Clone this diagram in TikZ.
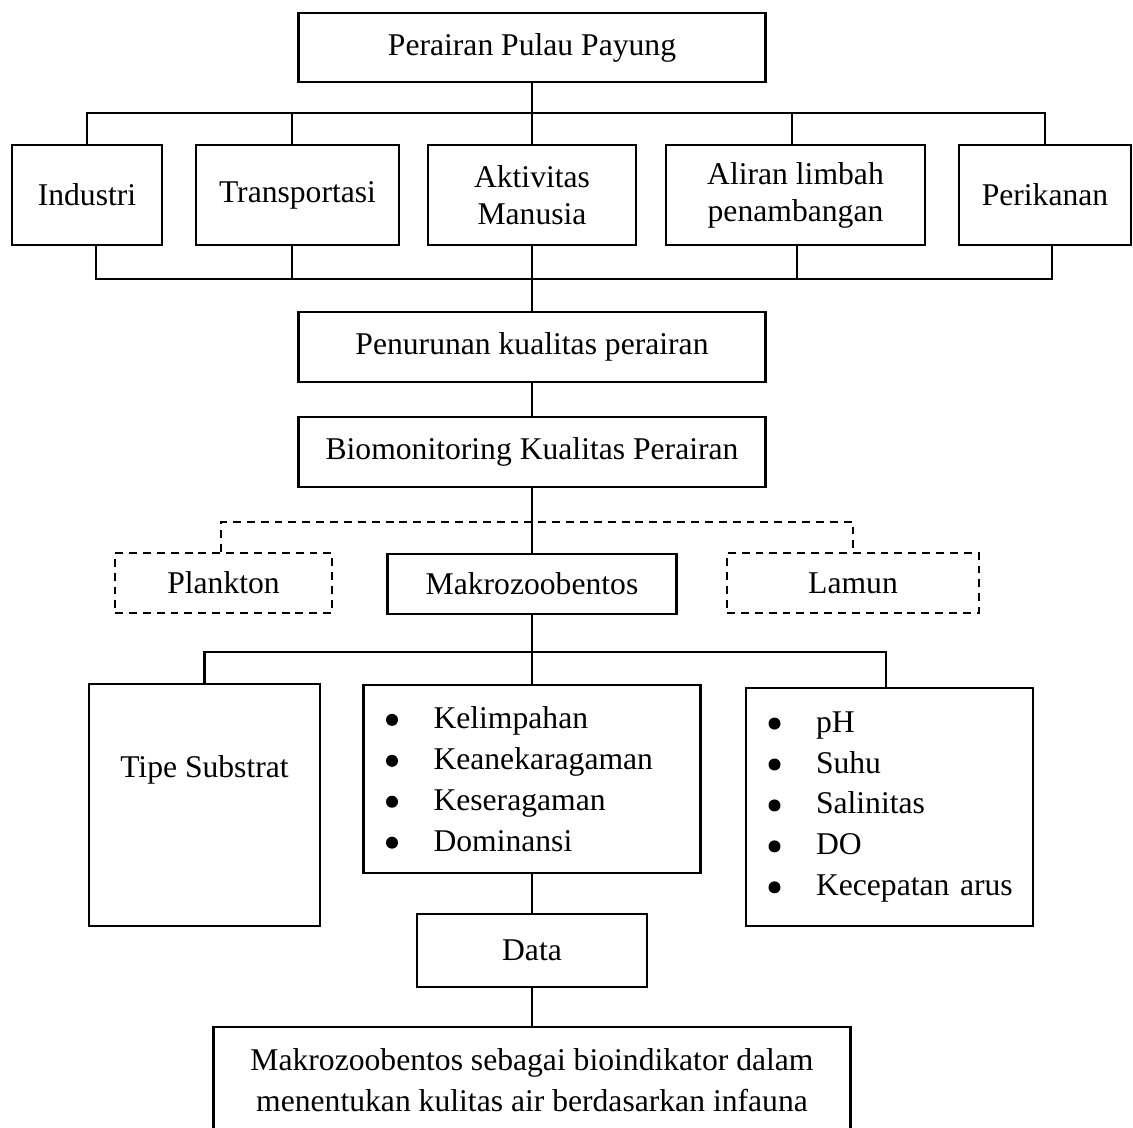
\documentclass[tikz,border=0pt]{standalone}
\usepackage{fontspec}
\setmainfont{Liberation Serif}

\tikzset{
  kotak/.style={draw, line width=1.4pt, inner sep=0, align=center, font=\fontsize{18}{21}\selectfont},
  putus/.style={dash pattern=on 4.5pt off 3.4pt},
  garis/.style={line width=1.4pt},
  daftar/.style={kotak, align=left, font=\fontsize{18}{23.3}\selectfont},
}
\newcommand{\titik}{\tikz[baseline=-0.27em]\fill (0,0) circle (0.12cm);}
\newcommand{\butir}[1]{\hspace*{0.45cm}\makebox[0.95cm][l]{\titik}#1}

\begin{document}
\begin{tikzpicture}

        \useasboundingbox (0, 0) rectangle (22.66, 22.54);
        \clip (0, 0) rectangle (22.66, 22.54);

        % Boxes:
        \node[kotak, minimum width=9.34cm, minimum height=1.38cm] (payung) at (10.64, 21.59) {Perairan Pulau Payung};
        \node[kotak, minimum width=3.0cm, minimum height=2.0cm] (industri) at (1.74, 18.64) {Industri};
        \node[kotak, minimum width=4.06cm, minimum height=2.0cm] (transportasi) at (5.95, 18.64) {Transportasi};
        \node[kotak, minimum width=4.16cm, minimum height=2.0cm] (aktivitas) at (10.64, 18.64) {Aktivitas\\Manusia};
        \node[kotak, minimum width=5.18cm, minimum height=2.0cm] (limbah) at (15.91, 18.64) {Aliran limbah\\penambangan};
        \node[kotak, minimum width=3.44cm, minimum height=2.0cm] (perikanan) at (20.90, 18.64) {Perikanan};
        \node[kotak, minimum width=9.34cm, minimum height=1.40cm] (penurunan) at (10.64, 15.60) {Penurunan kualitas perairan};
        \node[kotak, minimum width=9.34cm, minimum height=1.40cm] (biomon) at (10.64, 13.50) {Biomonitoring Kualitas Perairan};
        \node[kotak, putus, minimum width=4.34cm, minimum height=1.2cm] (plankton) at (4.47, 10.88) {Plankton};
        \node[kotak, minimum width=5.78cm, minimum height=1.2cm] (makro) at (10.64, 10.86) {Makrozoobentos};
        \node[kotak, putus, minimum width=5.04cm, minimum height=1.2cm] (lamun) at (17.06, 10.88) {Lamun};
        \node[kotak, minimum width=4.62cm, minimum height=4.84cm,
              label={[font=\fontsize{18}{21}\selectfont, yshift=0.7cm]center:Tipe Substrat}] (substrat) at (4.09, 6.44) {};
        \node[daftar, text width=6.74cm, minimum height=3.76cm] (indeks) at (10.64, 6.96)
            {\butir{Kelimpahan}\\\butir{Keanekaragaman}\\\butir{Keseragaman}\\\butir{Dominansi}};
        \node[daftar, text width=5.74cm, minimum height=4.76cm] (fisika) at (17.79, 6.40)
            {\butir{pH}\\\butir{Suhu}\\\butir{Salinitas}\\\butir{DO}\\\butir{Kecepatan arus}};
        \node[kotak, minimum width=4.6cm, minimum height=1.46cm] (data) at (10.64, 3.53) {Data};
        \node[kotak, font=\fontsize{18}{23.3}\selectfont, anchor=north, minimum width=12.74cm, minimum height=2.12cm] (hasil) at (10.64, 2.02)
            {Makrozoobentos sebagai bioindikator dalam\\menentukan kulitas air berdasarkan infauna};

        % Bus points:
        \coordinate (busa) at (10.64, 20.28);
        \coordinate (busb) at (10.64, 16.96);
        \coordinate (busc) at (10.64, 12.10);
        \coordinate (busd) at (10.64, 9.50);

        % Wires:
        \draw[garis] (payung) -- (aktivitas);
        \draw[garis] (industri.north) |- (busa) -| (perikanan.north);
        \draw[garis] ([xshift=-.11cm]transportasi.north) -- ([xshift=-.11cm]transportasi.north |- busa);
        \draw[garis] ([xshift=-.07cm]limbah.north) -- ([xshift=-.07cm]limbah.north |- busa);
        \draw[garis] ([xshift=.18cm]industri.south) |- (busb) -| ([xshift=.14cm]perikanan.south);
        \draw[garis] ([xshift=-.11cm]transportasi.south) -- ([xshift=-.11cm]transportasi.south |- busb);
        \draw[garis] ([xshift=.03cm]limbah.south) -- ([xshift=.03cm]limbah.south |- busb);
        \draw[garis] (aktivitas) -- (penurunan);
        \draw[garis] (penurunan) -- (biomon);
        \draw[garis] (biomon) -- (makro);
        \draw[garis, putus] ([xshift=-.05cm]plankton.north) |- (busc) -| (lamun.north);
        \draw[garis] (makro) -- (indeks);
        \draw[garis] (substrat.north) |- (busd) -| ([xshift=-.07cm]fisika.north);
        \draw[garis] (indeks) -- (data);
        \draw[garis] (data) -- (hasil);
    \end{tikzpicture}
\end{document}
